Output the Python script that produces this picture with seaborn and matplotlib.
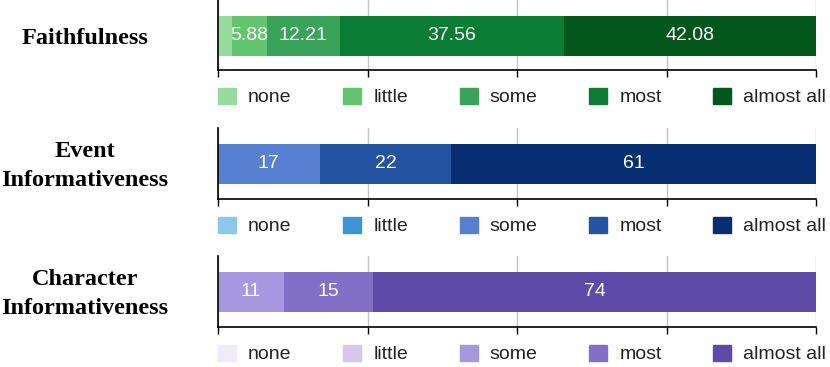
import matplotlib
matplotlib.use('Agg')
import matplotlib.pyplot as plt
import matplotlib.patches as mpatches
import matplotlib.transforms as mtransforms
import seaborn as sns

# Data
levels = ['none', 'little', 'some', 'most', 'almost all']
titles = ['Faithfulness', 'Event\nInformativeness', 'Character\nInformativeness']
faith_vals = [2.27, 5.88, 12.21, 37.56, 42.08]
event_vals = [0, 0, 17, 22, 61]
char_vals = [0, 0, 11, 15, 74]
faith_labels = ['', '5.88', '12.21', '37.56', '42.08']
event_labels = ['', '', '17', '22', '61']
char_labels = ['', '', '11', '15', '74']

greens = ['#98dc9d', '#63c66e', '#3aa35a', '#0a7c34', '#03561c']
blues = ['#8dc7ec', '#3b95d3', '#5780d3', '#2453a2', '#062e71']
purples = ['#efebfb', '#d4c8ef', '#a698e0', '#8270c7', '#5e4ba8']

panels = [
    (titles[0], faith_vals, faith_labels, greens),
    (titles[1], event_vals, event_labels, blues),
    (titles[2], char_vals, char_labels, purples),
]

W, H = 830, 367
fig = plt.figure(figsize=(W / 100, H / 100), dpi=100)

sans = 'Liberation Sans'
serif = 'Liberation Serif'

# axes tops/bottoms in pixels
axes_px = [(0, 70), (128, 199), (256, 327)]
x0, x1 = 218, 816

for (title, vals, labels, colors), (top, bot) in zip(panels, axes_px):
    ax = fig.add_axes([x0 / W, 1 - bot / H, (x1 - x0) / W, (bot - top) / H])
    # cumulative sums for stacking
    cums = []
    total = 0
    for v in vals:
        total += v
        cums.append(total)
    # draw from the longest cumulative bar down so shorter ones sit on top
    for i in reversed(range(len(vals))):
        sns.barplot(x=[cums[i]], y=[title], color=colors[i], orient='h',
                    width=0.8, linewidth=0, saturation=1, ax=ax)
    for i, lab in enumerate(labels):
        if lab:
            ax.text(cums[i] - vals[i] / 2, 0, lab, ha='center', va='center',
                    color='white', fontsize=14, family=sans)
    h = bot - top
    c = 36
    ax.set_ylim((h - c) / 40 * 0.8, -c / 40 * 0.8)
    ax.set_xlim(0, 100)
    ax.set_xticks([0, 25, 50, 75, 100])
    ax.set_xticklabels([])
    ax.set_yticks([])
    ax.set_xlabel('')
    ax.set_ylabel('')
    ax.xaxis.grid(True, color='#c4c4c4', lw=1)
    ax.set_axisbelow(True)
    ax.tick_params(axis='x', direction='out', length=5, width=1, color='black')
    for s in ['top', 'right']:
        ax.spines[s].set_visible(False)
    ax.spines['left'].set_color('black')
    ax.spines['bottom'].set_color('black')
    ax.spines['left'].set_linewidth(1.2)
    ax.spines['bottom'].set_linewidth(1.2)

    # row title on the left, nudged down a couple of pixels
    trans = mtransforms.blended_transform_factory(fig.transFigure, ax.transData)
    trans = trans + mtransforms.ScaledTranslation(0, -2 / 100, fig.dpi_scale_trans)
    ax.text(85 / W, 0, title, transform=trans, ha='center', va='center',
            fontsize=17.5, fontweight='bold', family=serif, linespacing=1.45,
            color='black')

    handles = [mpatches.Patch(color=c_, label=l_) for c_, l_ in zip(colors, levels)]
    leg = ax.legend(handles=handles, loc='center left', ncol=5,
                    bbox_to_anchor=(0, -27 / h), frameon=False,
                    borderaxespad=0, borderpad=0, handlelength=0.93,
                    handleheight=0.93, handletextpad=0.62, columnspacing=2.65,
                    prop={'family': sans, 'size': 14})
    for t in leg.get_texts():
        t.set_color('#222222')

fig.savefig('out.png', dpi=100)
